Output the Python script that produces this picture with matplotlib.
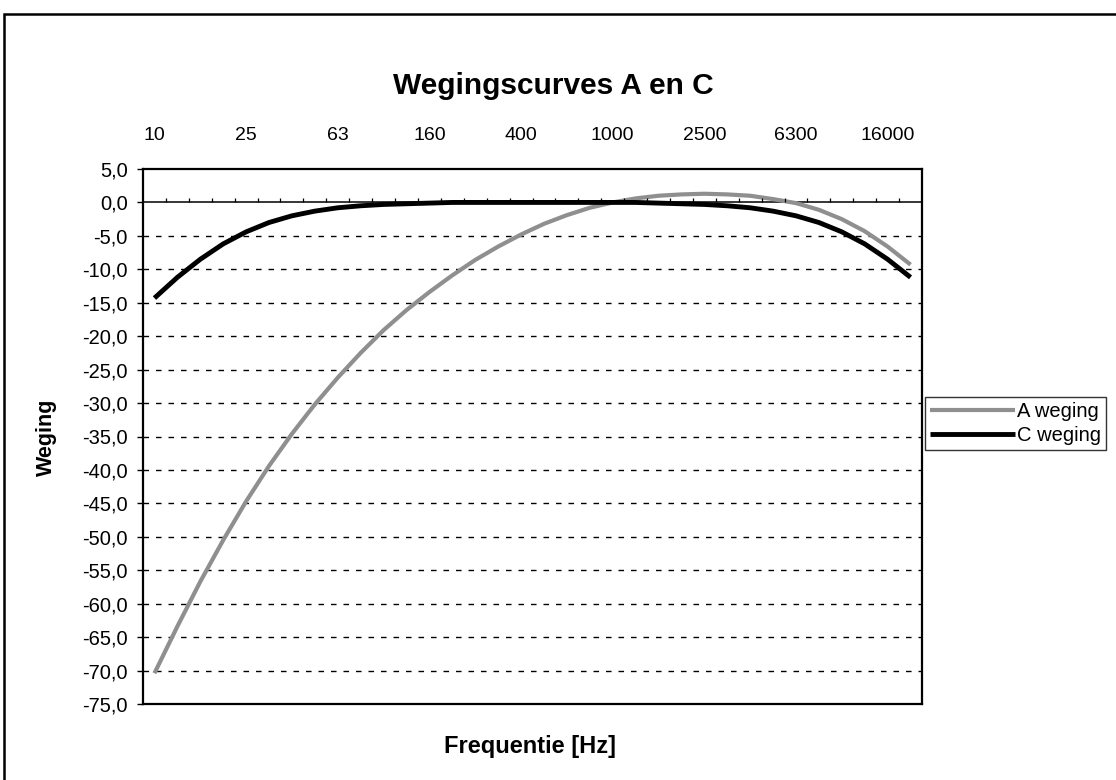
import numpy as np
import matplotlib
matplotlib.use("Agg")
import matplotlib.pyplot as plt
from matplotlib.patches import Rectangle

# Tertsbanden 10 Hz - 20 kHz
freqs = ["10", "12.5", "16", "20", "25", "31.5", "40", "50", "63", "80",
         "100", "125", "160", "200", "250", "315", "400", "500", "630", "800",
         "1000", "1250", "1600", "2000", "2500", "3150", "4000", "5000", "6300", "8000",
         "10000", "12500", "16000", "20000"]

a_weging = [-70.4, -63.4, -56.7, -50.5, -44.7, -39.4, -34.6, -30.2, -26.2, -22.5,
            -19.1, -16.1, -13.4, -10.9, -8.6, -6.6, -4.8, -3.2, -1.9, -0.8,
            0.0, 0.6, 1.0, 1.2, 1.3, 1.2, 1.0, 0.5, -0.1, -1.1,
            -2.5, -4.3, -6.6, -9.3]

c_weging = [-14.3, -11.2, -8.5, -6.2, -4.4, -3.0, -2.0, -1.3, -0.8, -0.5,
            -0.3, -0.2, -0.1, 0.0, 0.0, 0.0, 0.0, 0.0, 0.0, 0.0,
            0.0, 0.0, -0.1, -0.2, -0.3, -0.5, -0.8, -1.3, -2.0, -3.0,
            -4.4, -6.2, -8.5, -11.2]

x_labels = ["10", "25", "63", "160", "400", "1000", "2500", "6300", "16000"]
y_ticks = np.arange(5, -80, -5)

plt.rcParams["font.family"] = ["Liberation Sans", "DejaVu Sans"]

W, H = 1116, 780
fig = plt.figure(figsize=(W / 100, H / 100), dpi=100)

# buitenrand van de grafiek
fig.patches.append(Rectangle((4 / W, -0.1), 1.2, 1 - 14 / H + 0.1, transform=fig.transFigure,
                             fill=False, edgecolor="black", linewidth=1.8))

left, right, top, bottom = 143, 922, 169, 704
ax = fig.add_axes([left / W, 1 - bottom / H, (right - left) / W, (bottom - top) / H])

x = np.arange(len(freqs))
ax.plot(x, a_weging, color="#8f8f8f", linewidth=3, label="A weging", solid_capstyle="butt")
ax.plot(x, c_weging, color="black", linewidth=3.5, label="C weging", solid_capstyle="butt")

ax.set_xlim(-0.5, len(freqs) - 0.5)
ax.set_ylim(-75, 5)

# gestippelde hulplijnen
for yv in y_ticks[2:-1]:
    ax.axhline(yv, color="black", linewidth=1.0, linestyle=(0, (4, 5)), zorder=0)

# categorie-as bij 0
ax.axhline(0, color="black", linewidth=1.1, zorder=1)
ax.vlines(np.arange(0.5, len(freqs) - 0.5, 1), 0, 0.6, color="black", linewidth=0.9)

for s in ax.spines.values():
    s.set_linewidth(1.6)
    s.set_color("black")

ax.set_xticks(x[::4])
ax.set_xticklabels(x_labels)
ax.tick_params(axis="x", top=True, labeltop=True, bottom=False, labelbottom=False,
               length=0, pad=18, labelsize=14)

ax.set_yticks(y_ticks)
ax.set_yticklabels([f"{v:.1f}".replace(".", ",") for v in y_ticks])
ax.tick_params(axis="y", direction="out", length=4, width=1, pad=7, labelsize=14.5)

fig.text(553 / W, 1 - 86 / H, "Wegingscurves A en C", ha="center", va="center",
         fontsize=21.5, fontweight="bold")
fig.text(530 / W, 1 - 746 / H, "Frequentie [Hz]", ha="center", va="center",
         fontsize=17, fontweight="bold")
fig.text(46 / W, 1 - 437 / H, "Weging", ha="center", va="center", rotation=90,
         fontsize=15.5, fontweight="bold")

leg = fig.legend(loc="upper left", bbox_to_anchor=(925 / W, 1 - 397 / H), borderaxespad=0,
                 fontsize=14.5, frameon=True, fancybox=False, edgecolor="black",
                 handlelength=4.2, handletextpad=0.1, borderpad=0.25, labelspacing=0.25)
leg.get_frame().set_linewidth(1.0)

fig.savefig("out.png", dpi=100)
